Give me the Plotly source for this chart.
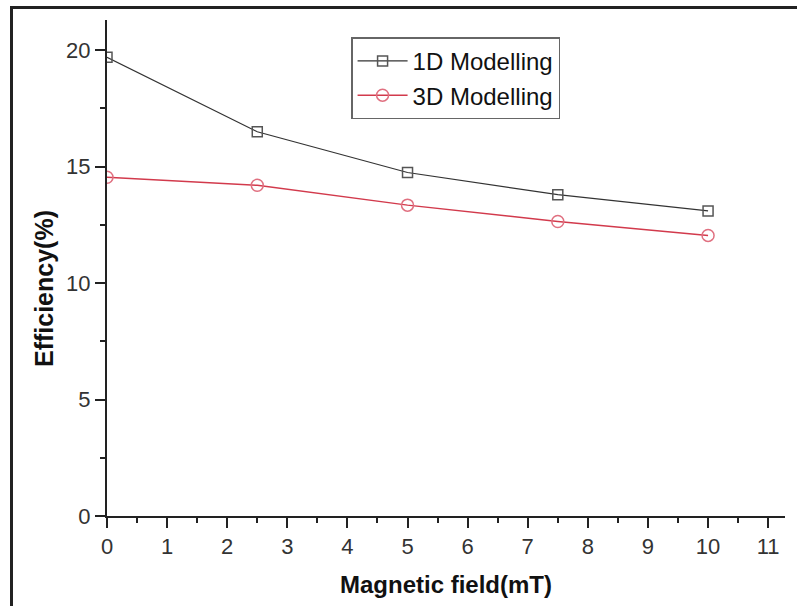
import plotly.graph_objects as go

field = [0, 2.5, 5, 7.5, 10]
eff_1d = [19.7, 16.5, 14.75, 13.8, 13.1]
eff_3d = [14.55, 14.2, 13.35, 12.65, 12.05]

x_ticks = list(range(0, 12))
y_ticks = [0, 5, 10, 15, 20]

FONT = "Liberation Sans, Arial, sans-serif"

fig = go.Figure()
fig.add_trace(go.Scatter(
    x=field, y=eff_1d, name="1D Modelling", mode="lines+markers",
    line=dict(color="#333333", width=1.2),
    marker=dict(symbol="square-open", size=10, color="#555555", line=dict(width=1.5)),
))
fig.add_trace(go.Scatter(
    x=field, y=eff_3d, name="3D Modelling", mode="lines+markers",
    line=dict(color="#d23a4c", width=1.5),
    marker=dict(symbol="circle-open", size=12, color="#e07080", line=dict(width=1.5)),
))

fig.update_layout(
    width=797, height=606,
    margin=dict(l=107, r=12, t=20, b=90),
    paper_bgcolor="white", plot_bgcolor="white",
    font=dict(family=FONT, color="#222222"),
    showlegend=True,
    legend=dict(
        x=0.36, y=0.965, xanchor="left", yanchor="top",
        bgcolor="white", bordercolor="#666666", borderwidth=1.5,
        font=dict(size=24, color="#111111", family=FONT),
        tracegroupgap=0, itemwidth=50,
    ),
    xaxis=dict(
        range=[0, 11.28], tickvals=x_ticks, ticktext=[str(v) for v in x_ticks],
        ticks="outside", ticklen=10, tickwidth=2, tickcolor="#222222",
        minor=dict(dtick=0.5, tick0=0, ticks="outside", ticklen=5, tickwidth=2, tickcolor="#222222"),
        showline=True, linecolor="#222222", linewidth=2, showgrid=False, zeroline=False,
        tickfont=dict(size=22, color="#333333"),
        title=dict(text="<b>Magnetic field(mT)</b>", font=dict(size=24, color="#111111"), standoff=18),
    ),
    yaxis=dict(
        range=[0, 21.3], tickvals=y_ticks, ticktext=[str(v) for v in y_ticks],
        ticks="outside", ticklen=10, tickwidth=2, tickcolor="#222222",
        minor=dict(dtick=2.5, tick0=0, ticks="outside", ticklen=5, tickwidth=2, tickcolor="#222222"),
        showline=True, linecolor="#222222", linewidth=2, showgrid=False, zeroline=False,
        tickfont=dict(size=22, color="#333333"),
    ),
    annotations=[dict(
        text="<b>Efficiency(%)</b>", xref="paper", yref="paper",
        x=(44 - 107) / 678, y=(516 - 288) / 496, textangle=-90,
        showarrow=False, font=dict(size=25, color="#111111", family=FONT),
        xanchor="center", yanchor="middle",
    )],
    shapes=[dict(
        type="rect", xref="paper", yref="paper",
        x0=(11.5 - 107) / 678, x1=1.2, y0=-0.3, y1=(516 - 7.5) / 496,
        line=dict(color="#222222", width=3), layer="above",
    )],
)

fig.write_html("out.html")
